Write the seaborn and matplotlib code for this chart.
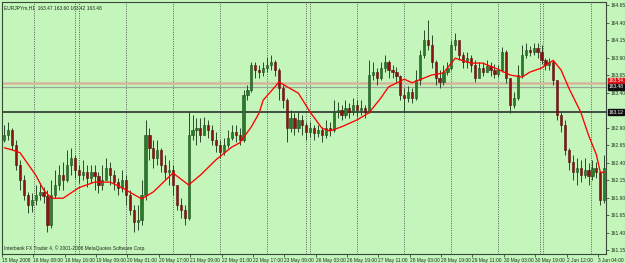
import numpy as np
import pandas as pd
import seaborn as sns
import matplotlib
matplotlib.use("Agg")
import matplotlib.pyplot as plt
from matplotlib.transforms import blended_transform_factory

# ---------------- data ----------------
symbol_title = "EURJPYm,H1  163.47 163.60 163.42 163.48"
footer_text = "Interbank FX Trader 4, \u00a9 2001-2008 MetaQuotes Software Corp."

first_open = 162.72
close = [162.79, 162.86, 162.65, 162.36, 162.15, 161.94, 161.79, 161.86, 161.94, 161.98,
         161.92, 161.51, 161.94, 162.08, 162.22, 162.15, 162.36, 162.47, 162.29, 162.22,
         162.26, 162.18, 162.26, 162.21, 162.08, 162.15, 162.32, 162.22, 162.12, 162.04,
         162.15, 161.94, 161.72, 161.55, 161.58, 161.94, 162.79, 162.61, 162.47, 162.58,
         162.36, 162.26, 162.29, 162.08, 161.79, 161.72, 161.61, 162.79, 162.86, 162.89,
         162.79, 162.94, 162.86, 162.72, 162.65, 162.55, 162.65, 162.75, 162.84, 162.79,
         162.72, 163.36, 163.44, 163.79, 163.72, 163.69, 163.75, 163.79, 163.84, 163.72,
         163.46, 163.29, 162.89, 163.04, 162.89, 163.01, 162.94, 162.84, 162.89, 162.82,
         162.86, 162.79, 162.89, 162.86, 163.12, 163.15, 163.08, 163.18, 163.12, 163.22,
         163.15, 163.18, 163.12, 163.65, 163.69, 163.61, 163.75, 163.84, 163.72, 163.69,
         163.63, 163.36, 163.32, 163.41, 163.32, 163.58, 163.94, 164.15, 164.08, 163.84,
         163.61, 163.55, 163.69, 163.75, 164.08, 164.15, 163.94, 163.84, 163.89, 163.79,
         163.61, 163.75, 163.69, 163.78, 163.72, 163.66, 163.72, 163.98, 163.61, 163.22,
         163.32, 163.65, 163.94, 164.01, 163.98, 164.04, 163.98, 163.86, 163.79, 163.84,
         163.58, 163.08, 162.94, 162.58, 162.41, 162.26, 162.32, 162.22, 162.29, 162.21,
         162.32, 162.26, 161.86, 162.32]
high = [162.94, 162.98, 162.89, 162.72, 162.44, 162.22, 161.98, 161.96, 162.08, 162.11,
        162.05, 162.01, 162.15, 162.29, 162.36, 162.41, 162.58, 162.61, 162.51, 162.36,
        162.44, 162.36, 162.36, 162.36, 162.26, 162.36, 162.47, 162.41, 162.29, 162.18,
        162.29, 162.22, 162.01, 161.79, 161.79, 162.15, 163.01, 162.89, 162.72, 162.72,
        162.61, 162.51, 162.44, 162.36, 162.08, 161.89, 161.79, 163.12, 163.08, 163.04,
        163.04, 163.05, 163.01, 162.94, 162.84, 162.72, 162.75, 162.86, 162.94, 162.94,
        162.89, 163.44, 163.51, 163.84, 163.84, 163.79, 163.84, 163.91, 163.94, 163.86,
        163.75, 163.51, 163.32, 163.15, 163.11, 163.12, 163.08, 162.98, 162.98, 162.94,
        162.94, 162.91, 163.01, 162.98, 163.29, 163.26, 163.22, 163.29, 163.25, 163.32,
        163.29, 163.29, 163.22, 163.86, 163.84, 163.75, 163.84, 163.94, 163.86, 163.79,
        163.76, 163.65, 163.46, 163.49, 163.46, 163.72, 164.01, 164.29, 164.44, 164.22,
        163.86, 163.72, 163.79, 163.84, 164.15, 164.25, 164.12, 163.98, 163.98, 163.94,
        163.86, 163.84, 163.84, 163.86, 163.84, 163.81, 163.79, 164.05, 164.01, 163.61,
        163.41, 163.79, 164.08, 164.11, 164.06, 164.11, 164.11, 164.08, 163.89, 163.89,
        163.86, 163.58, 163.12, 163.01, 162.61, 162.51, 162.47, 162.44, 162.47, 162.39,
        162.44, 162.41, 162.22, 162.51]
low = [162.69, 162.72, 162.58, 162.29, 162.01, 161.86, 161.68, 161.69, 161.79, 161.86,
       161.82, 161.41, 161.47, 161.89, 162.01, 162.01, 162.12, 162.22, 162.18, 162.11,
       162.15, 162.05, 162.11, 162.01, 161.96, 162.01, 162.18, 162.08, 162.01, 161.94,
       161.98, 161.79, 161.65, 161.41, 161.44, 161.51, 161.86, 162.44, 162.32, 162.36,
       162.26, 162.15, 162.08, 161.94, 161.72, 161.61, 161.51, 161.58, 162.72, 162.65,
       162.69, 162.79, 162.75, 162.65, 162.55, 162.47, 162.51, 162.61, 162.72, 162.69,
       162.65, 162.69, 163.29, 163.41, 163.61, 163.61, 163.63, 163.69, 163.72, 163.63,
       163.29, 163.18, 162.69, 162.84, 162.79, 162.84, 162.79, 162.72, 162.76, 162.72,
       162.76, 162.69, 162.75, 162.78, 162.84, 163.04, 163.01, 163.04, 163.04, 163.08,
       163.05, 163.08, 163.04, 163.11, 163.58, 163.51, 163.58, 163.69, 163.61, 163.61,
       163.55, 163.29, 163.12, 163.26, 163.25, 163.29, 163.51, 163.89, 164.01, 163.75,
       163.51, 163.46, 163.51, 163.65, 163.72, 164.01, 163.86, 163.75, 163.75, 163.69,
       163.55, 163.65, 163.63, 163.69, 163.63, 163.61, 163.62, 163.69, 163.54, 163.11,
       163.18, 163.29, 163.61, 163.89, 163.92, 163.94, 163.89, 163.81, 163.72, 163.72,
       163.51, 163.01, 162.84, 162.51, 162.29, 162.15, 162.08, 162.12, 162.18, 162.08,
       162.15, 162.18, 161.79, 161.82]

# moving average (red line), read at selected bars
ma_bar = [0, 2, 4, 8, 10, 12, 15, 19, 23, 27, 30, 35, 38, 43, 47, 50, 54, 58, 60, 63,
          65, 66, 69, 70, 75, 78, 81, 83, 86, 90, 93, 96, 98, 102, 104, 109, 112, 115,
          119, 122, 126, 129, 132, 134, 137, 140, 142, 144, 147, 149, 151, 152, 153]
ma_val = [162.61, 162.58, 162.54, 162.22, 162.01, 161.89, 161.89, 162.04, 162.12, 162.12,
          162.04, 161.88, 161.98, 162.25, 162.08, 162.22, 162.44, 162.62, 162.68, 162.91,
          163.11, 163.29, 163.48, 163.55, 163.39, 163.12, 162.89, 162.85, 162.91, 163.01,
          163.11, 163.32, 163.48, 163.59, 163.54, 163.65, 163.68, 163.89, 163.82, 163.82,
          163.73, 163.65, 163.62, 163.69, 163.75, 163.86, 163.72, 163.46, 163.12, 162.79,
          162.51, 162.26, 162.26]

# day separators (between bars)
day_separators = [7.5, 18, 19, 31, 43, 55, 67, 77, 78, 90, 102, 114, 126, 136.5, 137.5, 149.5]

time_labels = ["15 May 2008", "16 May 08:00", "16 May 16:00", "19 May 09:00", "20 May 01:00",
               "20 May 17:00", "21 May 09:00", "22 May 01:00", "22 May 17:00", "23 May 09:00",
               "26 May 03:00", "26 May 19:00", "27 May 11:00", "28 May 03:00", "28 May 19:00",
               "29 May 11:00", "30 May 03:00", "30 May 19:00", "2 Jun 12:00", "3 Jun 04:00"]
bars_per_label = 8

price_ticks = [164.65, 164.40, 164.15, 163.90, 163.65, 163.40, 162.90, 162.65,
               162.40, 162.15, 161.90, 161.65, 161.40, 161.15]
hline_level = 163.54
bid_level = 163.48
black_level = 163.12

# ---------------- style ----------------
BG = "#c4f6bb"
FG = "#1c2a1c"
UP = "#2a7a2a"
UP_EDGE = "#1c4f1c"
DN = "#8a1414"
DN_EDGE = "#5a0e0e"
WICK = "#2b4a2b"
FS = 3.5

sns.set_theme(style="white")
plt.rcParams["font.family"] = ["Liberation Sans", "DejaVu Sans"]

fig = plt.figure(figsize=(6.25, 2.63), dpi=100, facecolor=BG)
ax = fig.add_axes([2 / 625, 9 / 263, 604 / 625, 252 / 263])
ax.set_facecolor(BG)

n = len(close)
idx = np.arange(n)
opens = np.array([first_open] + close[:-1])
closes = np.array(close)
df = pd.DataFrame({"bar": idx, "open": opens, "close": closes,
                   "high": np.array(high), "low": np.array(low)})
df["up"] = df["close"] >= df["open"]

# separators
for s in day_separators:
    ax.axvline(s, color="#4a4a4a", lw=0.6, ls=(0, (1.2, 1.6)), zorder=1)

# horizontal lines
ax.axhline(hline_level, color="#d6b49c", lw=1.8, zorder=1.5)
ax.axhline(bid_level, color="#98a898", lw=0.9, zorder=1.5)
ax.axhline(black_level, color="#2a322a", lw=1.2, zorder=1.5)

# candles
ax.vlines(df["bar"], df["low"], df["high"], color=WICK, lw=0.7, zorder=2)
body_bottom = np.minimum(df["open"], df["close"])
body_h = np.maximum(np.abs(df["close"] - df["open"]), 0.012)
ax.bar(df["bar"], body_h, bottom=body_bottom, width=0.56,
       color=np.where(df["up"], UP, DN),
       edgecolor=np.where(df["up"], UP_EDGE, DN_EDGE), linewidth=0.4, zorder=3)

# moving average
ma_df = pd.DataFrame({"bar": ma_bar, "ma": ma_val})
sns.lineplot(data=ma_df, x="bar", y="ma", color="#ff0000", lw=0.95, ax=ax, zorder=4)

ax.set_xlim(-0.25, 153.45)
ax.set_ylim(161.093, 164.693)
ax.set_xlabel("")
ax.set_ylabel("")

# axes ticks
ax.yaxis.tick_right()
ax.set_yticks(price_ticks)
ax.set_yticklabels([f"{v:.2f}" for v in price_ticks])
ax.tick_params(axis="y", which="both", right=True, length=2, width=0.5, pad=1.0,
               labelsize=FS, colors=FG)
xt = [k * bars_per_label - 0.6 for k in range(len(time_labels))]
ax.set_xticks(xt)
ax.set_xticklabels(time_labels, ha="left")
ax.tick_params(axis="x", which="both", bottom=True, length=2.0, width=0.5, pad=0.6,
               labelsize=FS, colors=FG)

for sp in ax.spines.values():
    sp.set_color("#3a4a3a")
    sp.set_linewidth(0.8)

# texts
ax.text(0.004, 0.988, symbol_title, transform=ax.transAxes, fontsize=FS,
        color=FG, va="top", ha="left")
ax.text(0.004, 0.01, footer_text, transform=ax.transAxes, fontsize=FS,
        color=FG, va="bottom", ha="left")

tr = blended_transform_factory(ax.transAxes, ax.transData)
ax.text(1.004, hline_level + 0.03, f"{hline_level:.2f}", transform=tr, fontsize=FS,
        color="white", va="center", ha="left", zorder=10, clip_on=False,
        bbox=dict(boxstyle="square,pad=0.12", fc="#e01010", ec="#e01010"))
for lvl in (bid_level, black_level):
    ax.text(1.004, lvl, f"{lvl:.2f}", transform=tr, fontsize=FS, color="white",
            va="center", ha="left", zorder=11, clip_on=False,
            bbox=dict(boxstyle="square,pad=0.12", fc="#101010", ec="#101010"))

fig.savefig("out.png", dpi=100, facecolor=BG)
